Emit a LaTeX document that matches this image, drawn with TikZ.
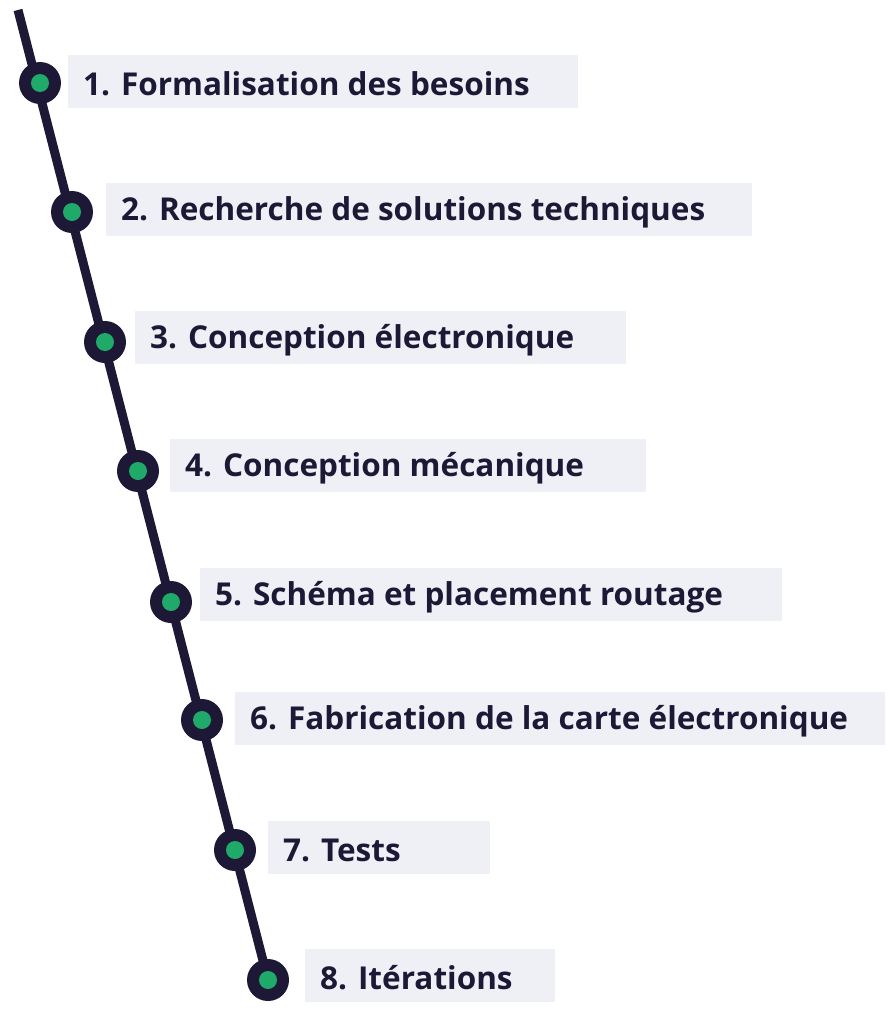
\documentclass[tikz,border=0pt]{standalone}
\usepackage{fontspec}
\setmainfont{Open Sans}
\definecolor{navy}{HTML}{1C1836}
\definecolor{dotgreen}{HTML}{20AA6A}
\definecolor{boxbg}{HTML}{EEF0F5}
\begin{document}
\begin{tikzpicture}[x=1pt,y=-1pt,
  outer/.style={circle,fill=navy,minimum size=42pt,inner sep=0pt},
  inner/.style={circle,fill=dotgreen,minimum size=18pt,inner sep=0pt},
  lab/.style={anchor=west,font=\fontsize{31.5}{36}\selectfont\bfseries,text=navy,inner sep=0pt}]
\useasboundingbox (0,0) rectangle (893,1009);
\coordinate (top) at (18,10);
\coordinate (bot) at (268,980);
\draw[navy,line width=9pt] (top) -- (bot);
\foreach \i/\cx/\cy/\bx/\bw/\by/\t in {
 1/40/83/68/578/55/{1. Formalisation des besoins},
 2/72/212/106/752/183/{2. Recherche de solutions techniques},
 3/105/342/135/626/311/{3. Conception électronique},
 4/138/471/170/646/439/{4. Conception mécanique},
 5/171/602/200/782/568/{5. Schéma et placement routage},
 6/202/720/235/885/692/{6. Fabrication de la carte électronique},
 7/235/850/268/490/821/{7. Tests},
 8/268/980/305/555/949/{8. Itérations}}{
  \fill[boxbg] (\bx,\by) rectangle (\bw,\by+53);
  \node[outer] (o\i) at (\cx,\cy) {};
  \node[inner] (g\i) at (o\i) {};
  \node[lab] (t\i) at (\bx+15,\by+29) {\t};
}
\end{tikzpicture}
\end{document}
